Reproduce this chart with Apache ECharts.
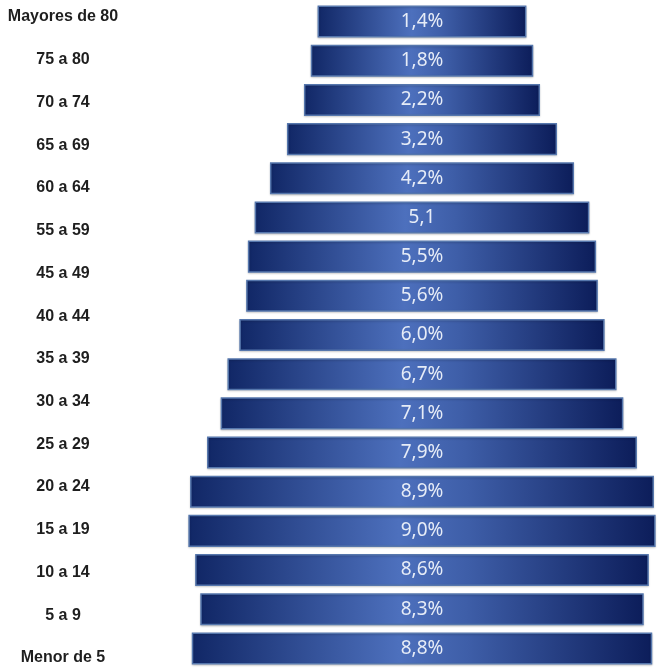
<!DOCTYPE html>
<html>
<head>
<meta charset="utf-8">
<script src="https://cdn.jsdelivr.net/npm/echarts@6/dist/echarts.min.js"></script>
<style>
  html, body { margin: 0; padding: 0; background: #fff; }
  #chart { width: 660px; height: 668px; }
</style>
</head>
<body>
<div id="chart"></div>
<script>
// etiquetas de edad (la columna izquierda no incluye "50 a 54")
var ageLabels = ["Mayores de 80", "75 a 80", "70 a 74", "65 a 69", "60 a 64", "55 a 59",
  "45 a 49", "40 a 44", "35 a 39", "30 a 34", "25 a 29", "20 a 24", "15 a 19",
  "10 a 14", "5 a 9", "Menor de 5"];

// porcentajes de cada barra, de arriba hacia abajo
var barValues = [1.4, 1.8, 2.2, 3.2, 4.2, 5.1, 5.5, 5.6, 6.0, 6.7, 7.1, 7.9, 8.9, 9.0, 8.6, 8.3, 8.8];
var barLabels = ["1,4%", "1,8%", "2,2%", "3,2%", "4,2%", "5,1", "5,5%", "5,6%", "6,0%",
  "6,7%", "7,1%", "7,9%", "8,9%", "9,0%", "8,6%", "8,3%", "8,8%"];

var PAD = 4.7; // ancho minimo de cada barra (en unidades del eje)

var myChart = echarts.init(document.getElementById("chart"));

var barData = barValues.map(function (v, i) {
  return [v, i];
});

myChart.setOption({
  animation: false,
  grid: [
    // columna de etiquetas
    { left: 125, right: 525, top: 17, bottom: 10 },
    // barras: el centro (0) queda en x = 422
    { left: 167, right: 0, top: 2, bottom: 0 }
  ],
  xAxis: [
    { gridIndex: 0, type: "value", show: false },
    { gridIndex: 1, type: "value", min: -15, max: 14, show: false }
  ],
  yAxis: [
    {
      gridIndex: 0,
      type: "category",
      inverse: true,
      boundaryGap: false,
      data: ageLabels,
      axisLine: { show: false },
      axisTick: { show: false },
      splitLine: { show: false },
      axisLabel: {
        interval: 0,
        align: "center",
        margin: 62,
        color: "#1e1e1e",
        fontWeight: "bold",
        fontSize: 16,
        fontFamily: "Liberation Sans"
      }
    },
    {
      gridIndex: 1,
      type: "category",
      inverse: true,
      data: barLabels,
      show: false
    }
  ],
  series: [
    {
      type: "custom",
      xAxisIndex: 1,
      yAxisIndex: 1,
      clip: false,
      encode: { x: 0, y: 1 },
      data: barData,
      renderItem: function (params, api) {
        var v = api.value(0);
        var idx = api.value(1);
        var l = api.coord([-(v + PAD), idx]);
        var r = api.coord([v + PAD, idx]);
        var h = api.size([0, 1])[1] * 0.78;
        return {
          type: "rect",
          shape: { x: l[0], y: l[1] - h / 2, width: r[0] - l[0], height: h },
          style: {
            fill: new echarts.graphic.LinearGradient(0, 0, 1, 0, [
              { offset: 0, color: "#112766" },
              { offset: 0.45, color: "#4d70bd" },
              { offset: 0.6, color: "#3e5ea8" },
              { offset: 1, color: "#0c1d5a" }
            ]),
            stroke: "#5677ad",
            lineWidth: 1.5,
            shadowColor: "rgba(0,0,0,0.18)",
            shadowBlur: 2,
            shadowOffsetY: 1
          },
          textContent: {
            style: {
              text: barLabels[params.dataIndex],
              fill: "#e6ecf7",
              fontSize: 19,
              fontFamily: "Noto Sans"
            }
          },
          textConfig: { position: "inside" }
        };
      }
    }
  ]
});
</script>
</body>
</html>
